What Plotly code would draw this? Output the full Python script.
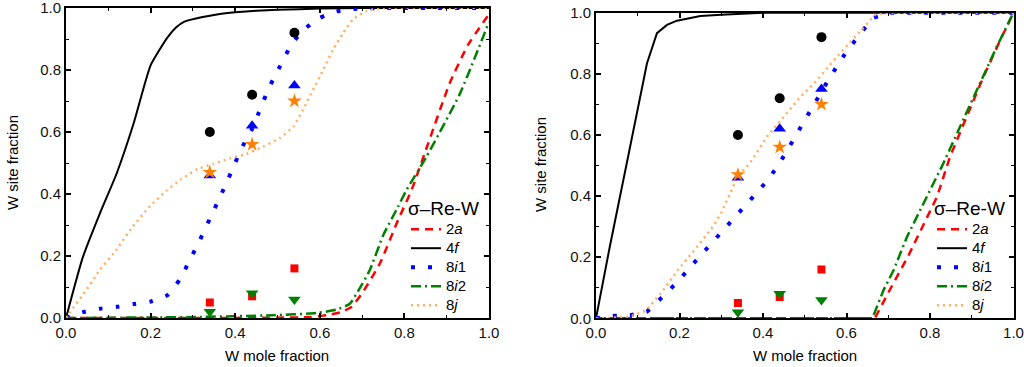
import plotly.graph_objects as go

# ---------------- data: left panel ----------------
L_4f_x = [0, 0.04, 0.08, 0.12, 0.16, 0.2, 0.24, 0.26, 0.28, 0.32, 0.36, 0.4, 0.45, 0.5, 0.6, 0.7, 0.8, 0.9, 1.0]
L_4f_y = [0, 0.197, 0.337, 0.467, 0.628, 0.815, 0.905, 0.937, 0.956, 0.97, 0.98, 0.986, 0.991, 0.994, 0.998, 1, 1, 1, 1]

L_8i1_x = [0, 0.04, 0.08, 0.12, 0.16, 0.2, 0.24, 0.27, 0.29, 0.31, 0.34, 0.365, 0.383, 0.4, 0.418, 0.44, 0.456,
           0.472, 0.49, 0.511, 0.531, 0.56, 0.6, 0.64, 0.68, 0.75, 1.0]
L_8i1_y = [0, 0.019, 0.03, 0.036, 0.045, 0.053, 0.074, 0.126, 0.18, 0.233, 0.32, 0.393, 0.447, 0.501, 0.555, 0.61,
           0.663, 0.717, 0.771, 0.825, 0.878, 0.928, 0.968, 0.989, 0.997, 1, 1]

L_8j_x = [0, 0.01, 0.048, 0.08, 0.119, 0.158, 0.198, 0.237, 0.27, 0.31, 0.348, 0.387, 0.426, 0.466, 0.505, 0.537,
          0.56, 0.584, 0.608, 0.631, 0.655, 0.678, 0.71, 0.75, 1.0]
L_8j_y = [0, 0.02, 0.09, 0.155, 0.22, 0.295, 0.36, 0.41, 0.445, 0.48, 0.497, 0.515, 0.529, 0.553, 0.58, 0.617,
          0.671, 0.736, 0.8, 0.865, 0.919, 0.962, 0.99, 1, 1]

L_2a_x = [0, 0.3, 0.5, 0.576, 0.62, 0.65, 0.675, 0.702, 0.742, 0.785, 0.817, 0.848, 0.907, 0.95, 1.0]
L_2a_y = [0, 0, 0.001, 0.003, 0.01, 0.019, 0.036, 0.084, 0.176, 0.316, 0.413, 0.531, 0.757, 0.88, 0.98]

L_8i2_x = [0, 0.3, 0.489, 0.592, 0.639, 0.671, 0.694, 0.718, 0.75, 0.785, 0.805, 0.852, 0.931, 1.0]
L_8i2_y = [0, 0.003, 0.009, 0.016, 0.027, 0.046, 0.095, 0.154, 0.267, 0.359, 0.413, 0.52, 0.723, 0.955]

# ---------------- data: right panel ----------------
R_4f_x = [0, 0.033, 0.08, 0.122, 0.146, 0.17, 0.194, 0.25, 0.3, 0.35, 0.4, 1.0]
R_4f_y = [0, 0.234, 0.55, 0.834, 0.933, 0.96, 0.974, 0.989, 0.993, 0.997, 1, 1]

R_8i1_x = [0, 0.044, 0.082, 0.122, 0.16, 0.197, 0.232, 0.268, 0.303, 0.338, 0.372, 0.407, 0.436, 0.459, 0.481,
           0.504, 0.527, 0.551, 0.575, 0.601, 0.631, 0.662, 0.7, 1.0]
R_8i1_y = [0, 0.008, 0.01, 0.022, 0.071, 0.122, 0.177, 0.231, 0.283, 0.337, 0.391, 0.445, 0.499, 0.552, 0.605,
           0.66, 0.714, 0.767, 0.82, 0.875, 0.927, 0.982, 1, 1]

R_8j_x = [0, 0.08, 0.12, 0.16, 0.2, 0.24, 0.28, 0.3, 0.34, 0.37, 0.41, 0.45, 0.49, 0.53, 0.57, 0.61, 0.65, 0.67,
          0.7, 1.0]
R_8j_y = [0, 0.005, 0.025, 0.09, 0.165, 0.23, 0.3, 0.345, 0.465, 0.51, 0.595, 0.66, 0.725, 0.78, 0.845, 0.905,
          0.965, 0.995, 1, 1]

R_2a_x = [0, 0.668, 0.697, 0.721, 0.749, 0.817, 0.848, 0.888, 0.928, 0.968, 1.0]
R_2a_y = [0, 0, 0.076, 0.136, 0.207, 0.398, 0.529, 0.66, 0.79, 0.91, 1.0]

R_8i2_x = [0, 0.662, 0.689, 0.713, 0.745, 0.792, 0.832, 0.872, 0.912, 0.96, 1.0]
R_8i2_y = [0, 0, 0.093, 0.158, 0.267, 0.398, 0.507, 0.627, 0.747, 0.889, 1.0]

# ---------------- data: measured points (both panels) ----------------
pts_x = [0.34, 0.44, 0.54]
pts_4f = [0.60, 0.72, 0.92]
pts_8i1 = [0.46, 0.62, 0.75]
pts_8j = [0.47, 0.56, 0.70]
pts_2a = [0.05, 0.07, 0.16]
pts_8i2 = [0.02, 0.08, 0.06]

legend_title = "σ–Re-W"
labels = ["2<i>a</i>", "4<i>f</i>", "8<i>i</i>1", "8<i>i</i>2", "8<i>j</i>"]
names = ["<span style='font-size:15px'>" + t + "</span>" for t in labels]

FONT = "Arial, Liberation Sans, sans-serif"
C_RED = "#FF0000"
C_BLK = "#000000"
C_BLU = "#0000FF"
C_GRN = "#008000"
C_ORL = "#FFAD60"
C_ORM = "#FF8000"

styles = {
    "2a": dict(color=C_RED, width=2.5, dash="8px,6px"),
    "4f": dict(color=C_BLK, width=2),
    "8i1": dict(color=C_BLU, width=4, dash="4px,13px"),
    "8i2": dict(color=C_GRN, width=2.5, dash="10px,4px,2px,4px"),
    "8j": dict(color=C_ORL, width=2.5, dash="2px,4px"),
}

fig = go.Figure()

panels = [
    ("x", "y", "legend", "spline",
     [(L_2a_x, L_2a_y), (L_4f_x, L_4f_y), (L_8i1_x, L_8i1_y), (L_8i2_x, L_8i2_y), (L_8j_x, L_8j_y)]),
    ("x2", "y2", "legend2", "linear",
     [(R_2a_x, R_2a_y), (R_4f_x, R_4f_y), (R_8i1_x, R_8i1_y), (R_8i2_x, R_8i2_y), (R_8j_x, R_8j_y)]),
]
keys = ["2a", "4f", "8i1", "8i2", "8j"]

for xa, ya, lg, shape, series in panels:
    for key, nm, (sx, sy) in zip(keys, names, series):
        ln = dict(styles[key], shape=shape)
        if shape == "spline":
            ln["smoothing"] = 0.5
        fig.add_trace(go.Scatter(x=sx, y=sy, mode="lines", name=nm, line=ln,
                                 xaxis=xa, yaxis=ya, legend=lg, showlegend=True))
    marker_sets = [
        (pts_4f, dict(symbol="circle", size=10, color=C_BLK)),
        (pts_2a, dict(symbol="square", size=8, color=C_RED)),
        (pts_8i2, dict(symbol="triangle-down", size=11, color=C_GRN)),
        (pts_8i1, dict(symbol="triangle-up", size=11, color=C_BLU)),
        (pts_8j, dict(symbol="star", size=11, color=C_ORM)),
    ]
    for vals, mk in marker_sets:
        fig.add_trace(go.Scatter(x=pts_x, y=vals, mode="markers", marker=mk,
                                 xaxis=xa, yaxis=ya, showlegend=False, hoverinfo="skip"))

W, H = 1024, 367

def axis(domain, anchor, dtick, minor_dtick):
    return dict(domain=domain, anchor=anchor, range=[0, 1], showline=True, linecolor="black", linewidth=2,
                mirror="allticks", ticks="inside", ticklen=5, tickwidth=1.5, tickcolor="black",
                dtick=dtick, tick0=0, tickformat=".1f", showgrid=False, zeroline=False, automargin=False,
                ticklabeloverflow="allow",
                tickfont=dict(family=FONT, size=15, color="#111111"),
                minor=dict(ticks="inside", dtick=minor_dtick, ticklen=3, tickwidth=1.2, tickcolor="black", showgrid=False))

fig.update_layout(
    width=W, height=H, autosize=False,
    margin=dict(l=0, r=0, t=0, b=0, autoexpand=False),
    paper_bgcolor="white", plot_bgcolor="white",
    font=dict(family=FONT, color="black"),
    xaxis=axis([66 / W, 489 / W], "y", 0.2, 0.1),
    yaxis=axis([1 - 318 / H, 1 - 8 / H], "x", 0.2, 0.1),
    xaxis2=axis([596 / W, 1013.5 / W], "y2", 0.2, 0.1),
    yaxis2=axis([1 - 318.3 / H, 1 - 12.7 / H], "x2", 0.2, 0.1),
    legend=dict(x=406 / W, y=1 - 190 / H, xanchor="left", yanchor="top", bgcolor="rgba(0,0,0,0)",
                title=dict(text=legend_title, font=dict(family=FONT, size=19)),
                font=dict(family=FONT, size=12), tracegroupgap=0),
    legend2=dict(x=932 / W, y=1 - 190 / H, xanchor="left", yanchor="top", bgcolor="rgba(0,0,0,0)",
                 title=dict(text=legend_title, font=dict(family=FONT, size=19)),
                 font=dict(family=FONT, size=12), tracegroupgap=0),
    annotations=[
        dict(text="W site fraction", x=12 / W, y=1 - 163 / H, xref="paper", yref="paper", textangle=-90,
             xanchor="center", yanchor="middle", showarrow=False, font=dict(family=FONT, size=15)),
        dict(text="W site fraction", x=540 / W, y=1 - 165 / H, xref="paper", yref="paper", textangle=-90,
             xanchor="center", yanchor="middle", showarrow=False, font=dict(family=FONT, size=15)),
        dict(text="W mole fraction", x=277 / W, y=1 - 355 / H, xref="paper", yref="paper",
             xanchor="center", yanchor="middle", showarrow=False, font=dict(family=FONT, size=15)),
        dict(text="W mole fraction", x=805 / W, y=1 - 355 / H, xref="paper", yref="paper",
             xanchor="center", yanchor="middle", showarrow=False, font=dict(family=FONT, size=15)),
    ],
)

fig.write_html("out.html", config={"displayModeBar": False},
               post_script="document.body.style.margin='0';document.body.style.overflow='hidden';")
